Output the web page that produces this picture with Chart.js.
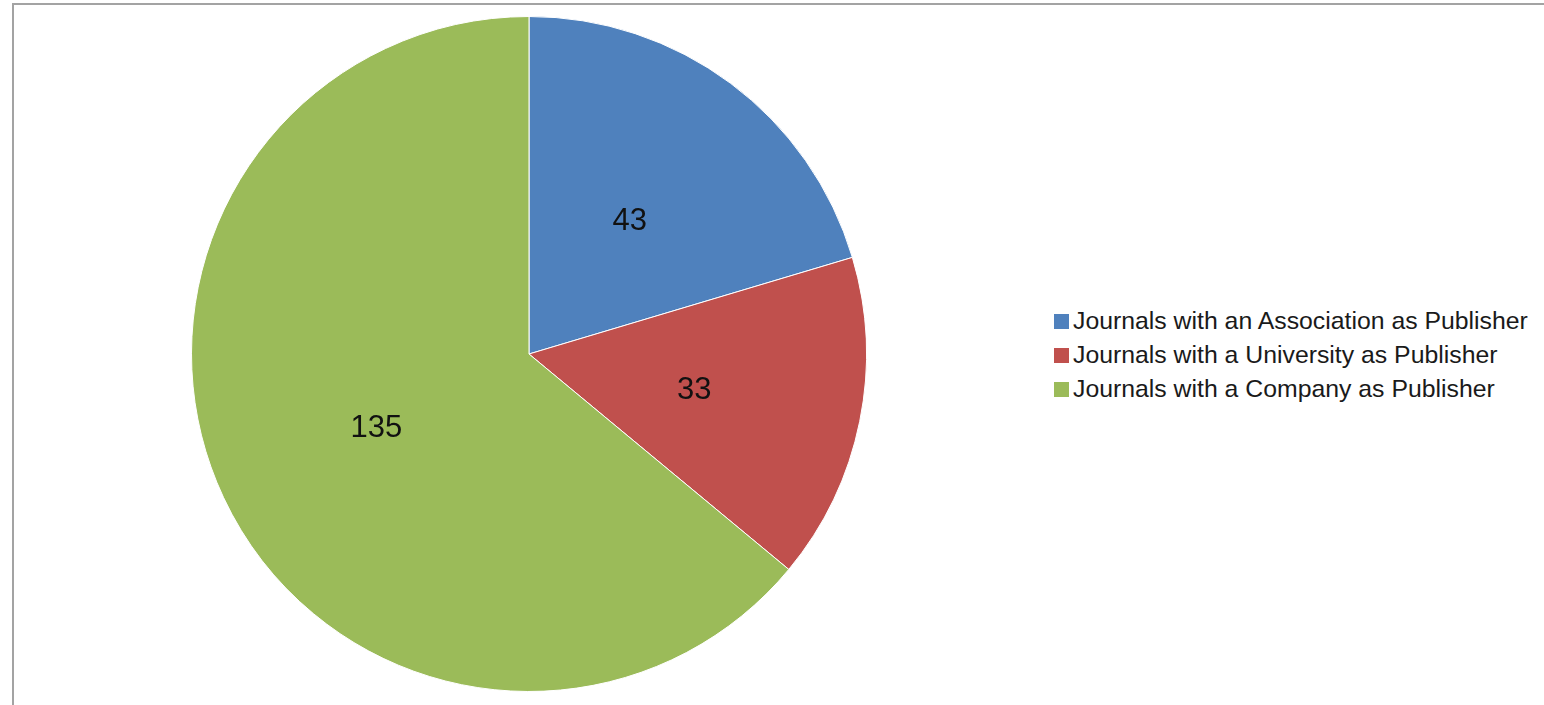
<!DOCTYPE html>
<html>
<head>
<meta charset="utf-8">
<script src="https://cdn.jsdelivr.net/npm/chart.js@4.4.0/dist/chart.umd.min.js"></script>
<style>
  html, body { margin: 0; padding: 0; background: #fff; }
  body { width: 1544px; height: 705px; position: relative; overflow: hidden; font-family: "Liberation Sans", Arial, sans-serif; }
  #frame { position: absolute; left: 12px; top: 3px; width: 1600px; height: 800px; border-left: 2px solid #a3a3a3; border-top: 2px solid #a3a3a3; box-sizing: border-box; }
  #wrap { position: absolute; left: 191px; top: 16px; width: 676px; height: 676px; }
  #legend { position: absolute; left: 1054px; top: 304px; }
  .row { height: 34px; display: flex; align-items: center; font-size: 24.8px; color: #1a1a1a; white-space: nowrap; }
  .sw { width: 15px; height: 15px; margin-right: 4px; flex: none; }
</style>
</head>
<body>
<div id="frame"></div>
<div id="wrap"><canvas id="c" width="676" height="676"></canvas></div>
<div id="legend"></div>
<script>
const categories = [
  "Journals with an Association as Publisher",
  "Journals with a University as Publisher",
  "Journals with a Company as Publisher"
];
const values = [43, 33, 135];
const colors = ["#4F81BD", "#C0504D", "#9BBB59"];

const labelPlugin = {
  id: 'sliceLabels',
  afterDatasetsDraw(chart) {
    const ctx = chart.ctx;
    const meta = chart.getDatasetMeta(0);
    ctx.save();
    ctx.font = '31px "Liberation Sans", Arial, sans-serif';
    ctx.fillStyle = '#111';
    ctx.textAlign = 'center';
    ctx.textBaseline = 'middle';
    meta.data.forEach((arc, i) => {
      const p = arc.tooltipPosition();
      ctx.fillText(String(chart.data.datasets[0].data[i]), p.x, p.y + 3);
    });
    ctx.restore();
  }
};

new Chart(document.getElementById('c'), {
  type: 'pie',
  data: {
    labels: categories,
    datasets: [{
      data: values,
      backgroundColor: colors,
      borderColor: '#ffffff',
      borderWidth: 1
    }]
  },
  options: {
    responsive: false,
    animation: false,
    layout: { padding: 0 },
    plugins: {
      legend: { display: false },
      tooltip: { enabled: false }
    }
  },
  plugins: [labelPlugin]
});

const leg = document.getElementById('legend');
categories.forEach((name, i) => {
  const row = document.createElement('div');
  row.className = 'row';
  const sw = document.createElement('div');
  sw.className = 'sw';
  sw.style.background = colors[i];
  const t = document.createElement('span');
  t.textContent = name;
  row.appendChild(sw);
  row.appendChild(t);
  leg.appendChild(row);
});
</script>
</body>
</html>
